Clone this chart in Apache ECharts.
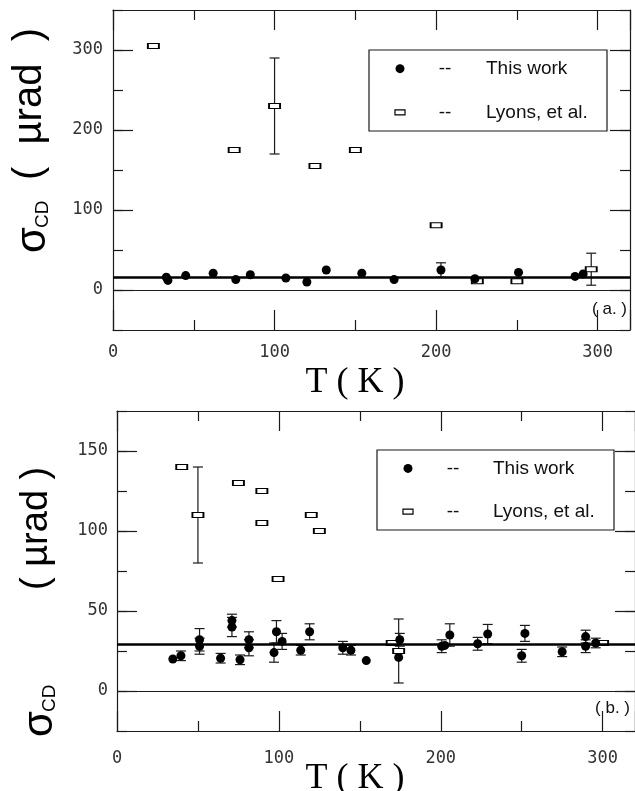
<!DOCTYPE html>
<html>
<head>
<meta charset="utf-8">
<script src="https://cdn.jsdelivr.net/npm/echarts@6/dist/echarts.min.js"></script>
<style>
  html, body { margin: 0; padding: 0; background: #fff; }
  #chartDIV { width: 635px; height: 791px; }
</style>
</head>
<body>
<div id="chartDIV"></div>
<script>
// [T (K), sigma (urad), error bar half height (0 = none)]
var aWork = [[33, 16, 0], [34, 12, 0], [45, 18, 0], [62, 21, 0], [76, 13, 0], [85, 19, 0],
    [107, 15, 0], [120, 10, 0], [132, 25, 0], [154, 21, 0], [174, 13, 0], [203, 25, 9],
    [224, 14, 0], [251, 22, 0], [286, 17, 0], [291, 20, 0]];
var aLyons = [[25, 305, 0], [75, 175, 0], [100, 230, 60], [125, 155, 0], [150, 175, 0],
    [200, 81, 0], [225.5, 11, 0], [250, 11, 0], [296, 26, 20]];
var bWork = [[34.5, 20, 0], [39.5, 22, 3], [51, 32, 7], [51, 28, 5], [64, 20.5, 3], [71, 44, 4],
    [71, 40, 6], [76, 19.5, 3], [81.5, 32, 5], [81.5, 27, 5], [97, 24, 6], [98.5, 37, 7],
    [102, 31, 5], [113.5, 25.5, 3], [119, 37, 5], [139.5, 27, 4], [144.5, 25.5, 3], [154, 19, 0],
    [174.7, 32, 4], [174, 21, 0], [200.6, 28, 4], [202.5, 28.5, 0], [205.6, 35, 7], [222.8, 29.5, 4],
    [229, 35.6, 6], [252, 36, 5], [250, 22, 4], [275, 24.5, 3], [289.5, 34, 4], [289.5, 28, 4],
    [295.7, 30, 3]];
var bLyons = [[40, 140, 0], [50, 110, 30], [75, 130, 0], [89.5, 125, 0], [89.5, 105, 0],
    [99.5, 70, 0], [120, 110, 0], [125, 100, 0], [170, 30, 0], [174, 25, 20], [300, 30, 0]];
var aFit = 16;
var bFit = 29;

var xRange = [0, 320];
var aRange = [-50, 350];
var aLabelRange = [0, 300];
var bRange = [-25, 175];
var bLabelRange = [0, 150];

var myChart = echarts.init(document.getElementById('chartDIV'));

var ink = '#1a1a1a';
var labelFont = { fontFamily: 'DejaVu Sans Mono', fontSize: 17, color: '#333' };

function xAx(grid, pos, margin) {
    return {
        type: 'value', gridIndex: grid, position: pos, min: xRange[0], max: xRange[1], interval: 100,
        axisLine: { show: true, onZero: false, lineStyle: { color: ink, width: 1.2 } },
        axisTick: { show: true, inside: true, length: 20, lineStyle: { color: ink, width: 1.2 } },
        minorTick: { show: true, splitNumber: 2, length: 10, lineStyle: { color: ink, width: 1.2 } },
        axisLabel: pos == 'bottom' ? Object.assign({ margin: margin, showMaxLabel: false }, labelFont) : { show: false },
        splitLine: { show: false }
    };
}
function hiddenX(grid) {
    return { type: 'value', gridIndex: grid, min: xRange[0], max: xRange[1], show: false };
}
// short ticks on the full range
function yMinor(grid, pos, range, step) {
    return {
        type: 'value', gridIndex: grid, position: pos, min: range[0], max: range[1], interval: step,
        axisLine: { show: true, onZero: false, lineStyle: { color: ink, width: 1.2 } },
        axisTick: { show: true, inside: true, length: 10, lineStyle: { color: ink, width: 1.2 } },
        axisLabel: { show: false },
        splitLine: { show: false }
    };
}
// long ticks + labels on the labelled range
function yMajor(grid, pos, range, step, margin) {
    return {
        type: 'value', gridIndex: grid, position: pos, min: range[0], max: range[1], interval: step,
        axisLine: { show: false },
        axisTick: { show: true, inside: true, length: 20, lineStyle: { color: ink, width: 1.2 } },
        axisLabel: pos == 'left' ? Object.assign({ margin: margin }, labelFont) : { show: false },
        splitLine: { show: false }
    };
}

function errorBars(data, xi, yi) {
    return {
        type: 'custom', xAxisIndex: xi, yAxisIndex: yi, z: 2,
        data: data.filter(function (d) { return d[2] > 0; }),
        renderItem: function (params, api) {
            var x = api.value(0), y = api.value(1), e = api.value(2);
            var top = api.coord([x, y + e]);
            var bot = api.coord([x, y - e]);
            var st = { stroke: ink, lineWidth: 1.2 };
            return {
                type: 'group',
                children: [
                    { type: 'line', shape: { x1: top[0], y1: top[1], x2: bot[0], y2: bot[1] }, style: st },
                    { type: 'line', shape: { x1: top[0] - 5, y1: top[1], x2: top[0] + 5, y2: top[1] }, style: st },
                    { type: 'line', shape: { x1: bot[0] - 5, y1: bot[1], x2: bot[0] + 5, y2: bot[1] }, style: st }
                ]
            };
        }
    };
}
function workSeries(data, xi, yi, fit) {
    return {
        type: 'scatter', xAxisIndex: xi, yAxisIndex: yi, z: 4,
        symbol: 'circle', symbolSize: 9,
        itemStyle: { color: '#000', opacity: 1 },
        data: data.map(function (d) { return [d[0], d[1]]; }),
        markLine: {
            silent: true, symbol: 'none', label: { show: false },
            data: [
                { yAxis: fit, lineStyle: { color: '#000', width: 2.6, type: 'solid' } },
                { yAxis: 0, lineStyle: { color: ink, width: 1.2, type: 'solid' } }
            ]
        }
    };
}
function lyonsSeries(data, xi, yi) {
    return {
        type: 'scatter', xAxisIndex: xi, yAxisIndex: yi, z: 3,
        symbol: 'rect', symbolSize: [11, 5],
        itemStyle: { color: '#fff', borderColor: '#000', borderWidth: 1.3, opacity: 1 },
        data: data.map(function (d) { return [d[0], d[1]]; })
    };
}

function legend(x0, x1, y0, y1, mx, dashX, textX) {
    var r1 = y0 + (y1 - y0) * 0.23, r2 = y0 + (y1 - y0) * 0.77;
    var tf = { fontFamily: 'Liberation Sans', fontSize: 19, fill: '#111', verticalAlign: 'middle' };
    return [
        { type: 'rect', shape: { x: x0, y: y0, width: x1 - x0, height: y1 - y0 }, style: { fill: '#fff', stroke: ink, lineWidth: 1.2 }, z: 10 },
        { type: 'circle', shape: { cx: mx, cy: r1, r: 4.5 }, style: { fill: '#000' }, z: 11 },
        { type: 'rect', shape: { x: mx - 5, y: r2 - 2.5, width: 10, height: 5 }, style: { fill: '#fff', stroke: '#000', lineWidth: 1.2 }, z: 11 },
        { type: 'text', x: dashX, y: r1, style: Object.assign({ text: '--', align: 'center' }, tf), z: 11 },
        { type: 'text', x: dashX, y: r2, style: Object.assign({ text: '--', align: 'center' }, tf), z: 11 },
        { type: 'text', x: textX, y: r1, style: Object.assign({ text: 'This work', align: 'left' }, tf), z: 11 },
        { type: 'text', x: textX, y: r2, style: Object.assign({ text: 'Lyons, et al.', align: 'left' }, tf), z: 11 }
    ];
}
function yTitle(x, y, unitText, unitX, unitSize) {
    return {
        type: 'group', x: x, y: y, rotation: Math.PI / 2,
        children: [
            { type: 'text', x: 0, y: 0, style: { text: 'σ', fontFamily: 'Liberation Sans', fontSize: 42, fill: '#000', verticalAlign: 'middle' } },
            { type: 'text', x: 25, y: 10, style: { text: 'CD', fontFamily: 'Liberation Sans', fontSize: 19, fill: '#000', verticalAlign: 'middle' } },
            { type: 'text', x: unitX, y: -3, style: { text: unitText, fontFamily: 'Liberation Sans', fontSize: unitSize, fill: '#000', verticalAlign: 'middle' } }
        ]
    };
}
function xTitle(x, y) {
    return { type: 'text', x: x, y: y, style: { text: 'T ( K )', fontFamily: 'Liberation Serif', fontSize: 36, fill: '#000', align: 'center', verticalAlign: 'middle' } };
}
function panelTag(x, y, t) {
    return { type: 'text', x: x, y: y, style: { text: t, fontFamily: 'Liberation Sans', fontSize: 17, fill: '#111', align: 'right', verticalAlign: 'middle' } };
}

var option = {
    animation: false,
    backgroundColor: '#fff',
    grid: [
        { left: 113, top: 10, width: 517, height: 320 },
        { left: 113, top: 50, width: 517, height: 240 },
        { left: 117, top: 411, width: 518, height: 320 },
        { left: 117, top: 451, width: 518, height: 240 }
    ],
    xAxis: [
        xAx(0, 'bottom', 14), xAx(0, 'top'), hiddenX(1),
        xAx(2, 'bottom', 19), xAx(2, 'top'), hiddenX(3)
    ],
    yAxis: [
        yMinor(0, 'left', aRange, 50), yMinor(0, 'right', aRange, 50),
        yMajor(1, 'left', aLabelRange, 100, 10), yMajor(1, 'right', aLabelRange, 100),
        yMinor(2, 'left', bRange, 25), yMinor(2, 'right', bRange, 25),
        yMajor(3, 'left', bLabelRange, 50, 9), yMajor(3, 'right', bLabelRange, 50)
    ],
    series: [
        errorBars(aWork, 0, 0), errorBars(aLyons, 0, 0),
        workSeries(aWork, 0, 0, aFit), lyonsSeries(aLyons, 0, 0),
        errorBars(bWork, 3, 4), errorBars(bLyons, 3, 4),
        workSeries(bWork, 3, 4, bFit), lyonsSeries(bLyons, 3, 4)
    ],
    graphic: [].concat(
        legend(369, 607, 50, 131, 400, 445, 486),
        legend(377, 614, 450, 530, 408, 453, 493),
        [yTitle(33, 253, '(  µrad  )', 73, 40), yTitle(40, 737, '( µrad )', 147, 38),
         xTitle(355, 383), xTitle(355, 779),
         panelTag(627, 309, '( a. )'), panelTag(630, 708, '( b. )')]
    )
};
myChart.setOption(option);
</script>
</body>
</html>
